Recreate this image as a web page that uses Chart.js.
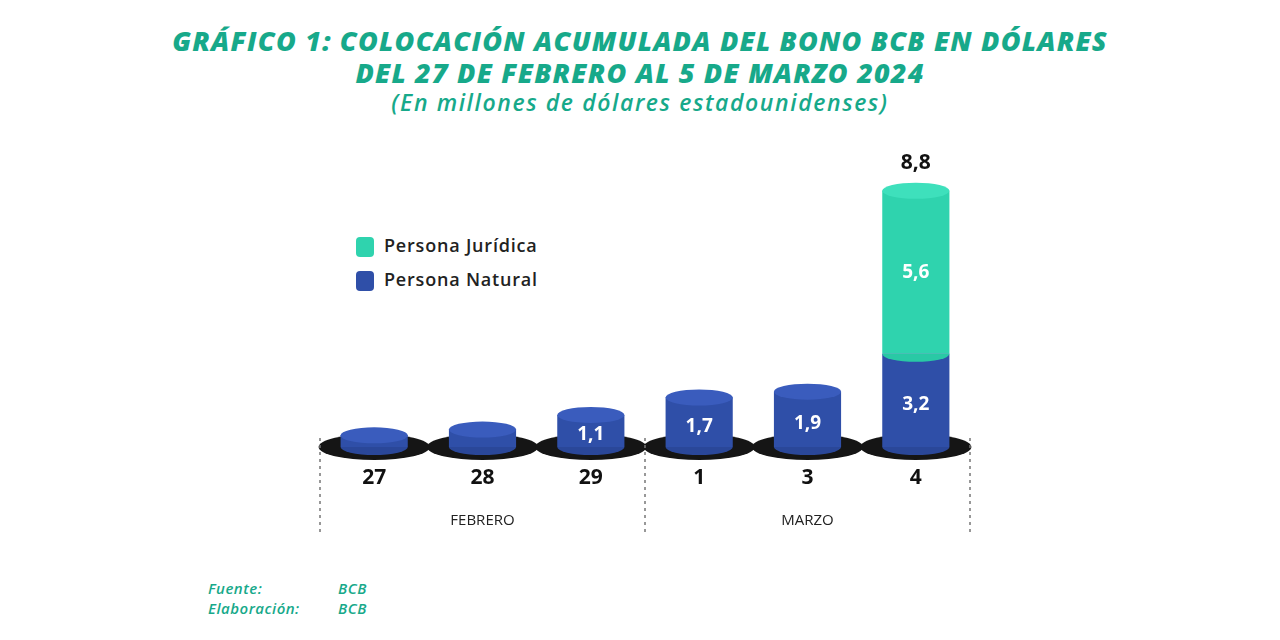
<!DOCTYPE html>
<html><head><meta charset="utf-8">
<script src="https://cdn.jsdelivr.net/npm/chart.js@4"></script>
<style>
body{margin:0;width:1280px;height:640px;background:#fff;font-family:"Open Sans",sans-serif;position:relative;overflow:hidden}
.t{position:absolute;left:0;width:1280px;text-align:center;color:#17a98a;font-style:italic;font-weight:800}
.leg{position:absolute;left:356px;font-size:18px;font-weight:600;color:#222;letter-spacing:0.8px}
.sw{display:inline-block;width:18px;height:20px;border-radius:4px;vertical-align:middle;margin-right:10px}
.src{position:absolute;left:208px;color:#17a98a;font-style:italic;font-weight:600;font-size:15px;letter-spacing:0.5px}
canvas{position:absolute;left:0;top:0}
</style></head><body>
<div class="t" style="top:22px;font-size:27px;letter-spacing:1.2px">GRÁFICO 1: COLOCACIÓN ACUMULADA DEL BONO BCB EN DÓLARES</div>
<div class="t" style="top:54px;font-size:27px;letter-spacing:1.2px">DEL 27 DE FEBRERO AL 5 DE MARZO 2024</div>
<div class="t" style="top:86px;font-size:23px;font-weight:600;letter-spacing:1.6px">(En millones de dólares estadounidenses)</div>
<div class="leg" style="top:233px"><span class="sw" style="background:#2fd3ae"></span>Persona Jurídica</div>
<div class="leg" style="top:267px"><span class="sw" style="background:#2f4fa8"></span>Persona Natural</div>
<div class="src" style="top:578px">Fuente:<span style="position:absolute;left:130px">BCB</span></div>
<div class="src" style="top:598px">Elaboración:<span style="position:absolute;left:130px">BCB</span></div>
<canvas id="c" width="1280" height="640"></canvas>
<script>
const categories=["27","28","29","1","3","4"];
const months=["FEBRERO","MARZO"];
const natural=[0.4,0.6,1.1,1.7,1.9,3.2];
const juridica=[0,0,0,0,0,5.6];
const totals=[null,null,null,null,null,8.8];
const shownNatural=[null,null,"1,1","1,7","1,9","3,2"];
const shownJuridica=[null,null,null,null,null,"5,6"];
const fmt=v=>v.toFixed(1).replace('.',',');
const cyl={id:'cyl',
beforeDatasetsDraw(ch){const ctx=ch.ctx;const y0=ch.scales.y.getPixelForValue(0);
 ch.getDatasetMeta(0).data.forEach(b=>{ctx.fillStyle='#151515';ctx.beginPath();ctx.ellipse(b.x,y0,b.width/2+22,13,0,0,Math.PI*2);ctx.fill();});},
afterDatasetsDraw(ch){const ctx=ch.ctx;
 [0,1].forEach(di=>{ch.getDatasetMeta(di).data.forEach((b,i)=>{const v=ch.data.datasets[di].data[i];if(!v)return;
  const top=di==0&&juridica[i]?null:b.y;
  ctx.fillStyle=di==0?'#2a4799':'#29c9a5';ctx.beginPath();ctx.ellipse(b.x,b.base,b.width/2,8,0,0,Math.PI);ctx.fill();
  if(top!==null){ctx.fillStyle=di==0?'#3a5cbd':'#3ee0bc';ctx.beginPath();ctx.ellipse(b.x,top,b.width/2,8,0,0,Math.PI*2);ctx.fill();}
 });});
 ctx.textAlign='center';ctx.textBaseline='middle';ctx.font='bold 19px "Open Sans"';ctx.fillStyle='#fff';
 ch.getDatasetMeta(0).data.forEach((b,i)=>{if(shownNatural[i])ctx.fillText(shownNatural[i],b.x,(b.y+b.base)/2+4);});
 ch.getDatasetMeta(1).data.forEach((b,i)=>{if(shownJuridica[i])ctx.fillText(shownJuridica[i],b.x,(b.y+b.base)/2);if(totals[i]){ctx.fillStyle='#111';ctx.font='bold 21px "Open Sans"';ctx.fillText(fmt(totals[i]),b.x,b.y-28);}});
 ctx.fillStyle='#111';ctx.font='bold 21px "Open Sans"';
 ch.getDatasetMeta(0).data.forEach((b,i)=>ctx.fillText(categories[i],b.x,478));
 ctx.font='15px "Open Sans"';ctx.fillStyle='#222';
 const d=ch.getDatasetMeta(0).data;ctx.fillText(months[0],(d[0].x+d[2].x)/2,521);ctx.fillText(months[1],(d[3].x+d[5].x)/2,521);
 ctx.strokeStyle='#777';ctx.lineWidth=1.5;ctx.setLineDash([3,4]);
 const a=ch.chartArea;[a.left,(d[2].x+d[3].x)/2,a.right].forEach(x=>{ctx.beginPath();ctx.moveTo(x,438);ctx.lineTo(x,535);ctx.stroke();});ctx.setLineDash([]);
}};
new Chart(document.getElementById('c'),{type:'bar',
data:{labels:categories,datasets:[
{data:natural,backgroundColor:'#2f4fa8',barPercentage:0.62,categoryPercentage:1},
{data:juridica,backgroundColor:'#2fd3ae',barPercentage:0.62,categoryPercentage:1}]},
options:{responsive:false,animation:false,layout:{padding:{left:320,right:310,top:150,bottom:193}},
plugins:{legend:{display:false},tooltip:{enabled:false}},
scales:{x:{stacked:true,display:false},y:{stacked:true,display:false,min:0,max:10.2}}},
plugins:[cyl]});
</script></body></html>
